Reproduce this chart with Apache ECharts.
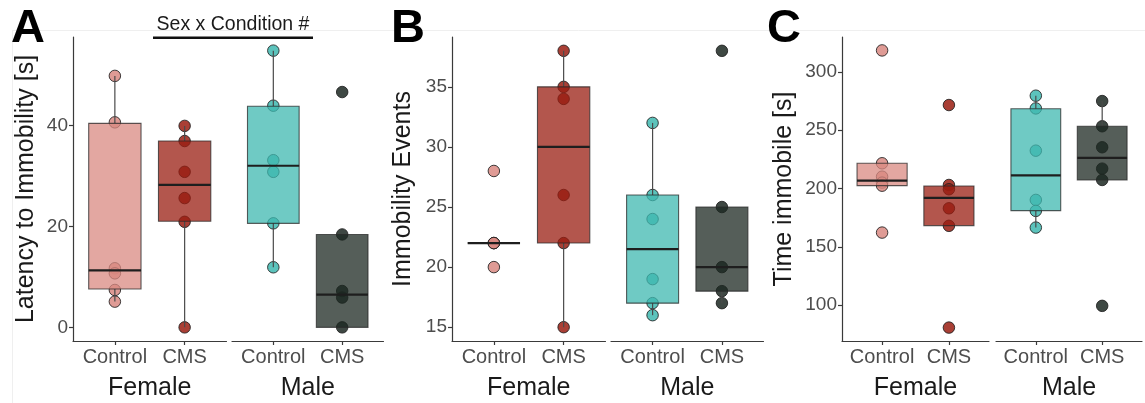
<!DOCTYPE html>
<html><head><meta charset="utf-8">
<script src="https://cdn.jsdelivr.net/npm/echarts@6/dist/echarts.min.js"></script>
<style>html,body{margin:0;padding:0;background:#fff}#c{width:1145px;height:403px}</style>
</head><body><div id="c"></div>
<script>
// ---------- data ----------
const groups = ['Control', 'CMS'];
const sexes = ['Female', 'Male'];

const latencyTicks = [0, 20, 40];
const eventsTicks = [15, 20, 25, 30, 35];
const timeTicks = [100, 150, 200, 250, 300];

// individual points
const latencyFemaleControl = [49.8, 40.6, 11.7, 10.7, 7.4, 5.1];
const latencyFemaleCMS = [39.9, 36.9, 30.8, 25.6, 20.9, 0];
const latencyMaleControl = [54.8, 43.9, 33.1, 30.8, 20.6, 11.9];
const latencyMaleCMS = [46.6, 18.4, 7.2, 5.9, 0];

const eventsFemaleControl = [28, 22, 22, 22, 20];
const eventsFemaleCMS = [38, 35, 34, 26, 22, 15];
const eventsMaleControl = [32, 26, 24, 19, 17, 16];
const eventsMaleCMS = [38, 25, 20, 18, 17];

const timeFemaleControl = [318.3, 221.6, 210.1, 205.0, 202.4, 162.2];
const timeFemaleCMS = [271.5, 203.0, 199.3, 183.0, 168.0, 80.8];
const timeMaleControl = [279.5, 268.6, 232.4, 190.2, 180.8, 166.5];
const timeMaleCMS = [274.9, 253.3, 235.3, 217.0, 207.3, 99.4];

// box statistics: [lower whisker, Q1, median, Q3, upper whisker]
const latencyBoxFemaleControl = [5.1, 7.6, 11.3, 40.4, 49.8];
const latencyBoxFemaleCMS = [0, 21.0, 28.2, 36.9, 39.9];
const latencyBoxMaleControl = [11.9, 20.6, 32.0, 43.8, 54.8];
const latencyBoxMaleCMS = [0, 0, 6.5, 18.4, 18.4];

const eventsBoxFemaleControl = [22, 22, 22, 22, 22];
const eventsBoxFemaleCMS = [15, 22, 30, 35, 38];
const eventsBoxMaleControl = [16, 17, 21.5, 26, 32];
const eventsBoxMaleCMS = [17, 18, 20, 25, 25];

const timeBoxFemaleControl = [202.4, 202.4, 206.7, 221.6, 221.6];
const timeBoxFemaleCMS = [168.2, 168.2, 192.0, 202.1, 203.0];
const timeBoxMaleControl = [166.5, 181.0, 211.2, 268.3, 279.5];
const timeBoxMaleCMS = [207.3, 207.3, 226.3, 253.3, 274.9];

// ---------- styling ----------
const baseColors = {
  'Female-Control': [217, 138, 130],
  'Female-CMS': [154, 29, 18],
  'Male-Control': [63, 184, 176],
  'Male-CMS': [28, 40, 34]
};
const rgba = (c, a) => `rgba(${c[0]},${c[1]},${c[2]},${a})`;
const FONT = '"Liberation Sans", Arial, Helvetica, sans-serif';

const panels = [
  { letter: 'A', letterX: 11, title: 'Latency to Immobility [s]', nameGap: 34,
    min: -2.7, max: 57.5, ticks: latencyTicks,
    grids: [[73, 153.5], [232, 151.5]],
    points: { 'Female-Control': latencyFemaleControl, 'Female-CMS': latencyFemaleCMS, 'Male-Control': latencyMaleControl, 'Male-CMS': latencyMaleCMS },
    boxes: { 'Female-Control': latencyBoxFemaleControl, 'Female-CMS': latencyBoxFemaleCMS, 'Male-Control': latencyBoxMaleControl, 'Male-CMS': latencyBoxMaleCMS } },
  { letter: 'B', letterX: 391, title: 'Immobility Events', nameGap: 36,
    min: 13.85, max: 39.15, ticks: eventsTicks,
    grids: [[452, 153.5], [611, 152.5]],
    points: { 'Female-Control': eventsFemaleControl, 'Female-CMS': eventsFemaleCMS, 'Male-Control': eventsMaleControl, 'Male-CMS': eventsMaleCMS },
    boxes: { 'Female-Control': eventsBoxFemaleControl, 'Female-CMS': eventsBoxFemaleCMS, 'Male-Control': eventsBoxMaleControl, 'Male-CMS': eventsBoxMaleCMS } },
  { letter: 'C', letterX: 767, title: 'Time immobile [s]', nameGap: 45,
    min: 69.3, max: 329.8, ticks: timeTicks,
    grids: [[842, 147], [996, 146]],
    points: { 'Female-Control': timeFemaleControl, 'Female-CMS': timeFemaleCMS, 'Male-Control': timeMaleControl, 'Male-CMS': timeMaleCMS },
    boxes: { 'Female-Control': timeBoxFemaleControl, 'Female-CMS': timeBoxFemaleCMS, 'Male-Control': timeBoxMaleControl, 'Male-CMS': timeBoxMaleCMS } }
];

const GRID_TOP = 37, GRID_H = 304;
const HALF = 0.375;
const axisLineStyle = { color: '#3a3a3a', width: 1.2 };

const grid = [], xAxis = [], yAxis = [], series = [], graphic = [];

// faint frame lines of the original figure
graphic.push({ type: 'line', shape: { x1: 12, y1: 30.5, x2: 1145, y2: 30.5 }, style: { stroke: '#efefef', lineWidth: 1 }, z: 0 });
graphic.push({ type: 'line', shape: { x1: 12.5, y1: 30, x2: 12.5, y2: 403 }, style: { stroke: '#efefef', lineWidth: 1 }, z: 0 });

function renderBox(params, api) {
  const x = api.value(0);
  const lo = api.value(1), q1 = api.value(2), med = api.value(3), q3 = api.value(4), hi = api.value(5);
  const key = api.value(6);
  const tl = api.coord([x - HALF, q3]);
  const br = api.coord([x + HALF, q1]);
  const pHi = api.coord([x, hi]), pQ3 = api.coord([x, q3]), pQ1 = api.coord([x, q1]), pLo = api.coord([x, lo]);
  const mL = api.coord([x - HALF, med]), mR = api.coord([x + HALF, med]);
  const col = baseColors[sexes[Math.floor(key / 2)] + '-' + groups[key % 2]];
  const children = [];
  if (hi > q3) children.push({ type: 'line', shape: { x1: pHi[0], y1: pHi[1], x2: pQ3[0], y2: pQ3[1] }, style: { stroke: '#4a4a4a', lineWidth: 1.2 } });
  if (lo < q1) children.push({ type: 'line', shape: { x1: pQ1[0], y1: pQ1[1], x2: pLo[0], y2: pLo[1] }, style: { stroke: '#4a4a4a', lineWidth: 1.2 } });
  children.push({ type: 'rect', shape: { x: tl[0], y: tl[1], width: br[0] - tl[0], height: br[1] - tl[1] },
    style: { fill: rgba(col, 0.75), stroke: 'rgba(40,40,40,0.75)', lineWidth: 1.1 } });
  children.push({ type: 'line', shape: { x1: mL[0], y1: mL[1], x2: mR[0], y2: mR[1] }, style: { stroke: '#1e1e1e', lineWidth: 2.2 } });
  return { type: 'group', children };
}

panels.forEach((p, pi) => {
  graphic.push({ type: 'text', left: p.letterX, top: 6, z: 10,
    style: { text: p.letter, font: `bold 47px ${FONT}`, fill: '#000' } });
  sexes.forEach((sex, si) => {
    const gi = grid.length;
    grid.push({ left: p.grids[si][0], width: p.grids[si][1], top: GRID_TOP, height: GRID_H,
      containLabel: false, outerBoundsMode: 'none' });
    xAxis.push({
      type: 'value', gridIndex: gi, min: 0.4, max: 2.6,
      name: sex, nameLocation: 'middle', nameGap: 35,
      nameTextStyle: { fontFamily: FONT, fontSize: 25, color: '#1a1a1a' },
      axisLine: { show: true, onZero: false, lineStyle: axisLineStyle },
      axisTick: { show: true, length: 4, lineStyle: axisLineStyle, customValues: [1, 2] },
      axisLabel: { show: true, customValues: [1, 2], margin: 6, fontFamily: FONT, fontSize: 20, color: '#4d4d4d',
        formatter: v => groups[Math.round(v) - 1] },
      splitLine: { show: false }
    });
    yAxis.push({
      type: 'value', gridIndex: gi, min: p.min, max: p.max, show: si === 0,
      name: si === 0 ? p.title : '', nameLocation: 'middle', nameGap: p.nameGap,
      nameTextStyle: { fontFamily: FONT, fontSize: 25, color: '#1a1a1a' },
      axisLine: { show: true, onZero: false, lineStyle: axisLineStyle },
      axisTick: { show: true, length: 4, lineStyle: axisLineStyle, customValues: p.ticks },
      axisLabel: { show: true, customValues: p.ticks, margin: 5, fontFamily: FONT, fontSize: 19, color: '#4d4d4d' },
      splitLine: { show: false }
    });
    groups.forEach((g, gIdx) => {
      const key = sex + '-' + g;
      const col = baseColors[key];
      series.push({
        type: 'scatter', xAxisIndex: gi, yAxisIndex: gi, z: 2,
        symbolSize: 11.5, silent: true,
        itemStyle: { color: rgba(col, 0.85), borderColor: 'rgba(30,30,30,0.85)', borderWidth: 1, opacity: 1 },
        data: p.points[key].map(v => [gIdx + 1, v])
      });
    });
    series.push({
      type: 'custom', xAxisIndex: gi, yAxisIndex: gi, z: 3, silent: true,
      renderItem: renderBox,
      encode: { x: 0, y: [1, 2, 3, 4, 5] },
      data: groups.map((g, gIdx) => [gIdx + 1].concat(p.boxes[sex + '-' + g]).concat([si * 2 + gIdx]))
    });
  });
});

// significance annotation over panel A
graphic.push({ type: 'text', x: 233, y: 25, z: 10,
  style: { text: 'Sex x Condition #', font: `19.5px ${FONT}`, fill: '#1a1a1a', align: 'center', verticalAlign: 'middle' } });
graphic.push({ type: 'rect', shape: { x: 153, y: 36.5, width: 160, height: 2.5 }, style: { fill: '#111' }, z: 10 });

const chart = echarts.init(document.getElementById('c'), null, { renderer: 'canvas' });
chart.setOption({ animation: false, backgroundColor: '#fff', grid, xAxis, yAxis, series, graphic });
</script></body></html>
